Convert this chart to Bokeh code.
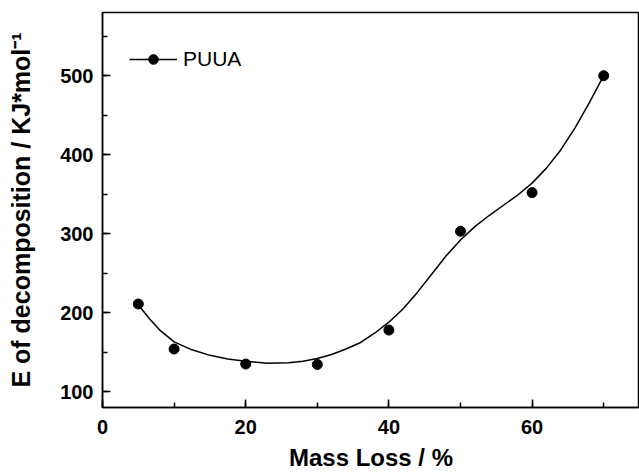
from bokeh.plotting import figure
from bokeh.models import Range1d, SingleIntervalTicker, Legend, LegendItem
from bokeh.embed import file_html
from bokeh.resources import INLINE

# Measured points
mass_loss = [5, 10, 20, 30, 40, 50, 60, 70]
energy = [211, 154, 135, 134.5, 178, 303, 352, 500]

# Smoothed curve
curve_x = [5, 6.5, 8, 10, 12.5, 15, 17.5, 20, 23, 26, 28, 30, 32, 34, 36, 38, 40,
           42, 44, 46, 48, 50, 52, 54, 56, 58, 60, 62, 64, 66, 68, 70]
curve_y = [210, 193, 178, 163, 153, 146, 141.5, 138.5, 136, 136.5, 138.5, 142, 147,
           154, 162, 174, 188, 205, 226, 249, 272, 292, 309, 323, 336, 349, 364, 383,
           406, 434, 466, 500]

series_name = "PUUA"
x_label = "Mass Loss / %"
y_label = "E of decomposition / KJ*mol\u207b\u00b9"

FONT = "Liberation Sans"

p = figure(width=639, height=473, output_backend="svg", toolbar_location=None,
           x_range=Range1d(0, 75), y_range=Range1d(80, 580),
           min_border_left=102, min_border_right=0, min_border_top=12,
           min_border_bottom=65)
p.background_fill_color = "white"
p.border_fill_color = "white"
p.grid.visible = False
p.outline_line_color = "black"
p.outline_line_width = 1.5

line_r = p.line(curve_x, curve_y, line_color="black", line_width=1.5)
pts_r = p.scatter(mass_loss, energy, size=10, marker="circle",
                  fill_color="black", line_color="black")

p.xaxis.ticker = SingleIntervalTicker(interval=20, num_minor_ticks=2)
p.yaxis.ticker = SingleIntervalTicker(interval=100, num_minor_ticks=2)

for ax in (p.xaxis[0], p.yaxis[0]):
    ax.axis_line_width = 1.5
    ax.axis_line_color = "black"
    ax.major_tick_in = 8
    ax.major_tick_out = 0
    ax.minor_tick_in = 5
    ax.minor_tick_out = 0
    ax.major_tick_line_width = 1.5
    ax.minor_tick_line_width = 1.5
    ax.major_label_text_font = FONT
    ax.major_label_text_font_style = "bold"
    ax.major_label_text_font_size = "20px"
    ax.major_label_text_color = "black"
    ax.axis_label_text_font = FONT
    ax.axis_label_text_font_style = "bold"
    ax.axis_label_text_color = "black"

p.xaxis.axis_label = x_label
p.xaxis.axis_label_text_font_size = "24px"
p.xaxis.major_label_standoff = 12
p.xaxis.axis_label_standoff = 7

p.yaxis.axis_label = y_label
p.yaxis.axis_label_text_font_size = "25px"
p.yaxis.major_label_standoff = 9
p.yaxis.axis_label_standoff = 22

legend = Legend(items=[LegendItem(label=series_name, renderers=[line_r, pts_r])],
                location=(27, 336), margin=0, padding=0, spacing=0,
                glyph_width=48, glyph_height=24, label_standoff=6,
                label_text_font=FONT, label_text_font_size="21px",
                label_text_color="black",
                border_line_color=None, background_fill_alpha=0)
p.add_layout(legend)

open("out.html", "w").write(file_html(p, INLINE))
